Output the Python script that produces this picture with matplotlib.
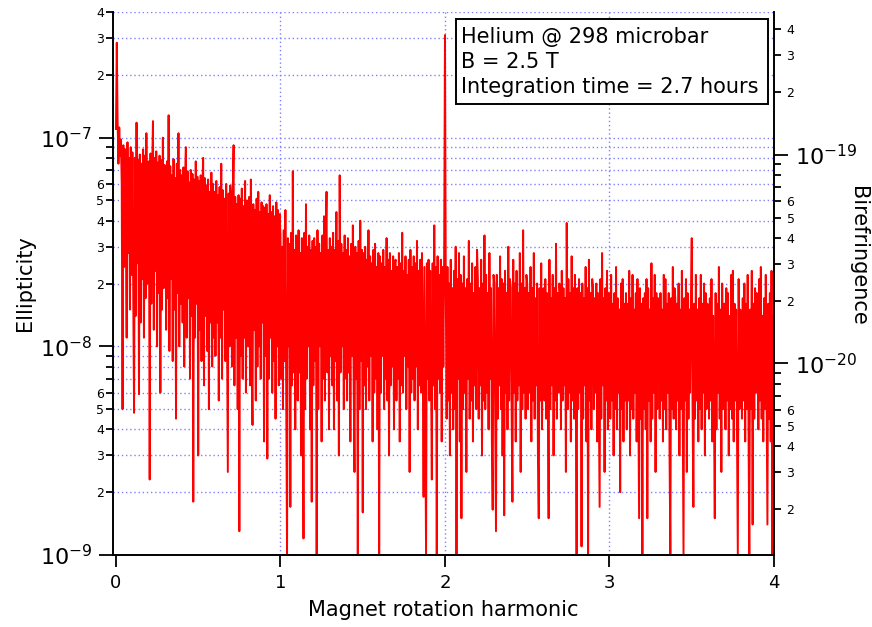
import numpy as np
import matplotlib.pyplot as plt
from matplotlib.patches import Rectangle
from matplotlib.ticker import FixedLocator, FuncFormatter

# ellipticity spectrum, units of 1e-9, one value per 0.005 harmonic
h0 = [110, 285, 118, 75, 112, 82, 98, 60, 5, 92, 24, 88, 40, 11, 95, 28, 80, 15, 90, 22,
      85, 18, 4.8, 80, 14, 118, 25, 78, 5.9, 83, 13, 75, 21, 88, 11, 82, 17, 105, 20, 73,
      77, 2.3, 84, 16, 72, 120, 12, 80, 23, 86, 10, 76, 18, 82, 6, 78, 15, 100, 19, 74,
      68, 12, 77, 17, 128, 9.5, 73, 21, 66, 8.5, 79, 15, 64, 4.5, 75, 18, 105, 10, 70, 16,
      66, 13, 72, 8, 64, 90, 11, 69, 17, 61, 7, 70, 14, 67, 1.8, 63, 11, 77, 16, 65,
      3, 62, 12, 66, 8.5, 57, 80, 6.5, 64, 14, 59, 9.5, 63, 5, 55, 13, 68, 8, 60, 11,
      55, 9, 62, 13, 53, 5.5, 58, 11, 75, 7, 56, 15, 51, 8.5, 60, 12, 2.5, 54, 10, 59,
      49, 8, 55, 92, 6.5, 52, 11, 48, 5, 53, 1.3, 51, 9, 57, 7, 47, 11, 62, 6, 50,
      46, 10, 52, 6.5, 63, 8.5, 4.2, 48, 12, 45, 5.5, 51, 8, 55, 10, 44, 7, 49, 13, 47,
      3.5, 46, 9, 48, 2.9, 43, 7, 53, 11, 44, 6, 47, 8.5, 42, 4.5, 49, 10, 45, 6.5, 43]
h1 = [34, 7, 30, 5, 36, 8.5, 45, 5.5, 1.0, 33, 10, 31, 1.7, 35, 6.5, 69, 7.5, 29, 4, 34,
      31, 5.5, 36, 7.5, 28, 3, 33, 9, 1.2, 35, 5, 48, 7, 30, 10, 34, 4, 29, 1.8, 32,
      6.5, 33, 8.5, 30, 1.0, 36, 5, 31, 10, 28, 3.5, 34, 7, 42, 5.5, 32, 55, 7.5, 29, 4,
      33, 9, 30, 6.5, 35, 4, 29, 8.5, 44, 5.5, 32, 3, 66, 7.5, 31, 10, 28, 5, 34, 7,
      29, 5.5, 33, 7.5, 27, 3.5, 31, 9, 38, 6.5, 2.5, 30, 7, 28, 1.0, 32, 5, 40, 8.5, 29,
      1.6, 28, 6.5, 30, 5, 26, 8, 36, 5.5, 27, 9, 25, 3.5, 29, 6, 31, 7, 24, 4, 28,
      1.0, 27, 6, 25, 9, 29, 5, 24, 7, 33, 5.5, 26, 3, 28, 6.5, 23, 8, 27, 4, 25,
      26, 5.5, 24, 7, 28, 3.5, 25, 6.5, 35, 6, 23, 9, 27, 5, 22, 8, 26, 2.5, 29, 6,
      24, 7, 27, 5.5, 25, 8, 32, 4, 23, 6.5, 26, 6, 28, 9, 1.9, 24, 5, 1.0, 25, 7,
      26, 5.5, 23, 8, 2.3, 25, 6.5, 38, 5, 24, 1.0, 27, 7, 22, 6, 26, 3.5, 24, 8, 28]
h2 = [310, 18, 4.5, 24, 5.5, 20, 3, 26, 6, 19, 4, 23, 5, 30, 1.0, 21, 7, 28, 3.5, 22,
      1.5, 20, 5, 27, 6, 19, 2.5, 21, 7, 32, 4.5, 20, 5.5, 25, 3.5, 18, 6.5, 24, 5, 29,
      21, 4.5, 19, 6.5, 26, 3, 20, 5.5, 34, 5, 22, 6, 18, 4, 28, 7, 19, 3.5, 1.65, 22,
      20, 5.5, 1.3, 22, 4.5, 19, 6.5, 27, 5, 21, 3, 20, 1.55, 23, 6, 18, 4, 30, 5.5, 21,
      19, 5, 1.8, 26, 6, 20, 3.5, 23, 5.5, 18, 6.5, 28, 2.5, 20, 5, 36, 6, 19, 4.5, 22,
      20, 5, 18, 6, 24, 3.5, 19, 5.5, 28, 4.5, 17, 6.5, 20, 3, 1.5, 19, 5.5, 25, 4, 18,
      19, 5.5, 21, 4.5, 18, 6, 1.5, 26, 5, 17, 6.5, 22, 3, 19, 5.5, 31, 4.5, 18, 6, 20,
      18, 4, 23, 5.5, 19, 6.5, 17, 2.5, 39, 5, 21, 6, 18, 3.5, 27, 5.5, 19, 4.5, 22, 6.5,
      1.0, 19, 5, 21, 6, 18, 1.1, 20, 4.5, 17, 6.5, 24, 3.5, 19, 1.0, 26, 5.5, 18, 4, 21,
      19, 5, 17, 6, 20, 3.5, 18, 5.5, 1.7, 21, 4.5, 28, 6.5, 17, 2.5, 19, 5.5, 23, 4, 18]
h3 = [17, 4.5, 22, 5.5, 16, 3, 18, 5, 24, 4, 17, 6, 15, 2, 20, 5, 21, 3.5, 16, 5.5,
      18, 4, 16, 5.5, 23, 3, 17, 5, 22, 4.5, 15, 6, 18, 3.5, 21, 5.5, 1.5, 19, 4.5, 16,
      1.0, 17, 5, 18, 4, 21, 1.5, 19, 5.5, 15, 3.5, 25, 4.5, 17, 6, 22, 2.5, 18, 5, 17,
      16, 4.5, 18, 5.5, 15, 3.5, 22, 5, 21, 4, 16, 6, 18, 3, 1.0, 17, 5, 24, 4.5, 19,
      17, 4, 16, 5.5, 20, 3, 15, 5, 23, 4.5, 1.0, 17, 5.5, 21, 2.5, 18, 4.5, 15, 6, 17,
      33, 5, 1.7, 16, 4.5, 22, 5.5, 15, 3.5, 17, 5, 22, 4, 16, 6, 20, 3, 18, 5, 16,
      15, 4.5, 17, 5.5, 21, 3.5, 14, 5, 1.5, 18, 4, 16, 6, 24, 4.5, 15, 2.5, 20, 5, 16,
      16, 4, 19, 5.5, 18, 3, 14, 5, 22, 4.5, 23, 3.5, 16, 5.5, 15, 4, 1.0, 21, 5, 15,
      14, 4.5, 17, 5.5, 20, 3.5, 16, 5, 22, 4, 1.0, 15, 5, 23, 1.4, 16, 4.5, 19, 6, 18,
      15, 4, 21, 5.5, 24, 4.5, 14, 3.5, 17, 5, 22, 6, 1.4, 16, 4.5, 18, 3.5, 23, 1.0, 14,
      8.8]

ell = np.array(h0 + h1 + h2 + h3) * 1e-9
harm = np.linspace(0, 4, len(ell))

k_bire = 1.207e-12  # ellipticity -> birefringence
y_lim = (1e-9, 4e-7)
x_ticks = [0, 1, 2, 3, 4]
info = ['Helium @ 298 microbar', 'B = 2.5 T', 'Integration time = 2.7 hours']

plt.rcParams['font.family'] = 'DejaVu Sans'
plt.rcParams['mathtext.default'] = 'regular'

fig = plt.figure(figsize=(8.72, 6.27), dpi=100)
ax = fig.add_axes([113 / 872, 1 - 555 / 627, 661 / 872, 543 / 627])
ax.plot(harm, ell, color='#ff0000', lw=1.4, zorder=2)
ax.set_yscale('log')
ax.set_ylim(*y_lim)
ax.set_xlim(-0.018, 4.0)


def log_ticks(lo, hi):
    major, minor = [], []
    for e in range(int(np.floor(np.log10(lo))) - 1, int(np.ceil(np.log10(hi))) + 1):
        for d in range(1, 10):
            v = d * 10.0 ** e
            if lo * 0.999 <= v <= hi * 1.001:
                (major if d == 1 else minor).append(v)
    return major, minor


def major_fmt(v, p):
    return r'$10^{%d}$' % round(np.log10(v))


def minor_fmt(v, p):
    d = int(round(v / 10.0 ** np.floor(np.log10(v) + 1e-9)))
    return str(d) if d <= 6 else ''


def style_log_axis(a, lo, hi, minor_pad):
    major, minor = log_ticks(lo, hi)
    a.yaxis.set_major_locator(FixedLocator(major))
    a.yaxis.set_minor_locator(FixedLocator(minor))
    a.yaxis.set_major_formatter(FuncFormatter(major_fmt))
    a.yaxis.set_minor_formatter(FuncFormatter(minor_fmt))
    a.tick_params(axis='y', which='major', length=10, width=1.3, labelsize=16, pad=5,
                  direction='out')
    a.tick_params(axis='y', which='minor', length=5, width=1.3, labelsize=9, pad=minor_pad,
                  direction='out')
    return major + minor


# dotted grid like the original
for v in style_log_axis(ax, y_lim[0], y_lim[1], 1.5):
    ax.axhline(v, color='#8080ff', lw=1, ls=(0, (1, 2)), zorder=0)
for t in x_ticks[1:-1]:
    ax.axvline(t, color='#8080ff', lw=1, ls=(0, (1, 2)), zorder=0)

ax.set_xticks(x_ticks)
ax.set_xticklabels([str(t) for t in x_ticks])
ax.tick_params(axis='x', which='major', length=8.5, width=1.3, labelsize=13, pad=5)

ax2 = ax.twinx()
ax2.set_yscale('log')
ax2.set_ylim(y_lim[0] * k_bire, y_lim[1] * k_bire)
style_log_axis(ax2, y_lim[0] * k_bire, y_lim[1] * k_bire, 4)

for a in (ax, ax2):
    a.spines['top'].set_visible(False)
    for s in ('left', 'right', 'bottom'):
        a.spines[s].set_linewidth(1.4)
ax.spines['right'].set_visible(False)
ax2.spines['left'].set_visible(False)
ax2.spines['bottom'].set_visible(False)

ax.set_xlabel('Magnet rotation harmonic', fontsize=15)
ax.xaxis.label.set_va('center')
ax.xaxis.set_label_coords(0.5, -(610 - 555) / 543)
ax.set_ylabel('Ellipticity', fontsize=15)
ax.yaxis.label.set_va('center')
ax.yaxis.set_label_coords((25 - 113) / 661, 0.5)
ax2.set_ylabel('Birefringence', fontsize=15, rotation=270)
ax2.yaxis.label.set_va('center')
ax2.yaxis.set_label_coords((858 - 113) / 661, (555 - 256) / 543)

# info box
fig.add_artist(Rectangle((456 / 872, 1 - 104 / 627), 312 / 872, 85 / 627,
                         transform=fig.transFigure, fc='white', ec='black', lw=1.4, zorder=3))
fig.text(461 / 872, 1 - 27 / 627, '\n'.join(info), ha='left', va='top', fontsize=15,
         linespacing=1.32, zorder=4)

fig.savefig('out.png', dpi=100)
